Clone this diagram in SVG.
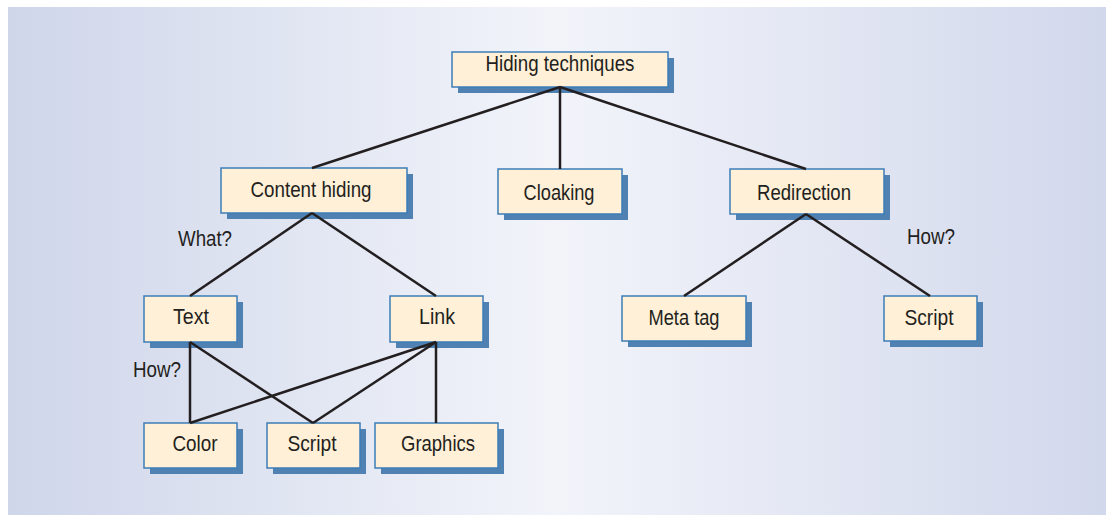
<svg xmlns="http://www.w3.org/2000/svg" width="1106" height="515" viewBox="0 0 1106 515">
<defs>
<linearGradient id="bg" x1="0" y1="0" x2="1" y2="0">
<stop offset="0" stop-color="#cfd6ea"/>
<stop offset="0.5" stop-color="#f2f4fa"/>
<stop offset="1" stop-color="#d2d8ec"/>
</linearGradient>
</defs>
<style>
.sh{fill:#4f81b3}
.bx{fill:#fff0d7;stroke:#3c7db8;stroke-width:1.5}
.t{font-family:"Liberation Sans",Arial,sans-serif;font-size:22px;fill:#231f20;text-anchor:middle}
.c line{stroke:#231f20;stroke-width:2.5}
</style>
<rect x="8" y="7" width="1098" height="508" fill="url(#bg)"/>
<g id="n-hiding"><rect class="sh" x="458" y="58" width="216" height="35"/><rect class="bx" x="452" y="52" width="216" height="35"/><text class="t" x="560" y="71" textLength="149" lengthAdjust="spacingAndGlyphs">Hiding techniques</text></g>
<g id="n-content"><rect class="sh" x="227" y="174" width="186" height="45"/><rect class="bx" x="221" y="168" width="186" height="45"/><text class="t" x="311" y="197" textLength="121" lengthAdjust="spacingAndGlyphs">Content hiding</text></g>
<g id="n-cloaking"><rect class="sh" x="504" y="175" width="124" height="45"/><rect class="bx" x="498" y="169" width="124" height="45"/><text class="t" x="559" y="200" textLength="71" lengthAdjust="spacingAndGlyphs">Cloaking</text></g>
<g id="n-redirection"><rect class="sh" x="736" y="175" width="154" height="45"/><rect class="bx" x="730" y="169" width="154" height="45"/><text class="t" x="804" y="200" textLength="94" lengthAdjust="spacingAndGlyphs">Redirection</text></g>
<g id="n-text"><rect class="sh" x="150" y="302" width="93" height="46"/><rect class="bx" x="144" y="296" width="93" height="46"/><text class="t" x="191" y="324" textLength="36" lengthAdjust="spacingAndGlyphs">Text</text></g>
<g id="n-link"><rect class="sh" x="396" y="302" width="93" height="46"/><rect class="bx" x="390" y="296" width="93" height="46"/><text class="t" x="437" y="324" textLength="36" lengthAdjust="spacingAndGlyphs">Link</text></g>
<g id="n-metatag"><rect class="sh" x="628" y="302" width="124" height="45"/><rect class="bx" x="622" y="296" width="124" height="45"/><text class="t" x="684" y="325" textLength="71" lengthAdjust="spacingAndGlyphs">Meta tag</text></g>
<g id="n-script2"><rect class="sh" x="890" y="302" width="93" height="45"/><rect class="bx" x="884" y="296" width="93" height="45"/><text class="t" x="929" y="325" textLength="49" lengthAdjust="spacingAndGlyphs">Script</text></g>
<g id="n-color"><rect class="sh" x="150" y="429" width="93" height="45"/><rect class="bx" x="144" y="423" width="93" height="45"/><text class="t" x="195" y="451" textLength="45" lengthAdjust="spacingAndGlyphs">Color</text></g>
<g id="n-script1"><rect class="sh" x="273" y="429" width="93" height="45"/><rect class="bx" x="267" y="423" width="93" height="45"/><text class="t" x="312" y="451" textLength="49" lengthAdjust="spacingAndGlyphs">Script</text></g>
<g id="n-graphics"><rect class="sh" x="381" y="429" width="123" height="45"/><rect class="bx" x="375" y="423" width="123" height="45"/><text class="t" x="438" y="451" textLength="74" lengthAdjust="spacingAndGlyphs">Graphics</text></g>
<g class="c" id="connectors">
<line x1="560" y1="87" x2="312" y2="168"/>
<line x1="560" y1="87" x2="560" y2="169"/>
<line x1="560" y1="87" x2="806" y2="169"/>
<line x1="312" y1="213" x2="190" y2="296"/>
<line x1="312" y1="213" x2="436" y2="296"/>
<line x1="806" y1="214" x2="684" y2="296"/>
<line x1="806" y1="214" x2="930" y2="296"/>
<line x1="190" y1="342" x2="190" y2="423"/>
<line x1="190" y1="342" x2="313" y2="423"/>
<line x1="436" y1="342" x2="190" y2="423"/>
<line x1="436" y1="342" x2="313" y2="423"/>
<line x1="436" y1="342" x2="436" y2="423"/>
</g>
<g id="labels">
<text class="t" x="205" y="246" textLength="54" lengthAdjust="spacingAndGlyphs">What?</text>
<text class="t" x="931" y="244" textLength="48" lengthAdjust="spacingAndGlyphs">How?</text>
<text class="t" x="157" y="377" textLength="48" lengthAdjust="spacingAndGlyphs">How?</text>
</g>
</svg>
